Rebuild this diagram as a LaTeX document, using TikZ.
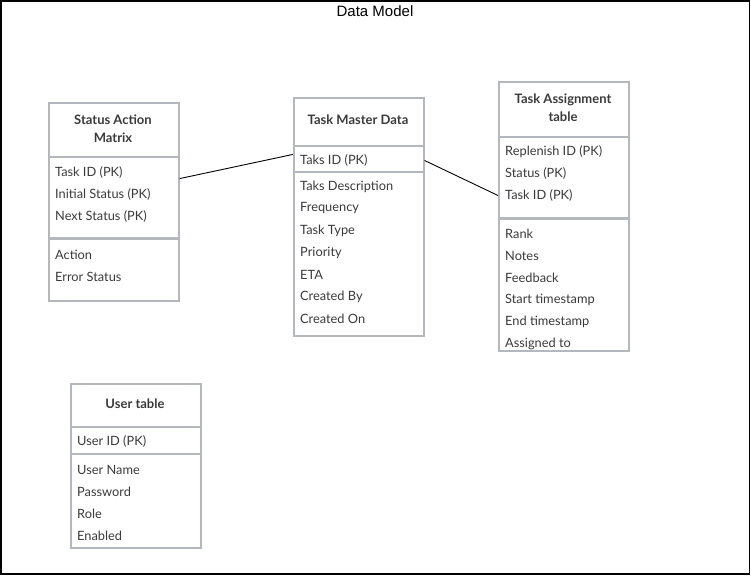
\documentclass[tikz,border=0pt]{standalone}
\usepackage{fontspec}
\setmainfont{Lato}
\newfontfamily\helv{Liberation Sans}
\definecolor{boxgray}{HTML}{B4B8BC}
\definecolor{txt}{HTML}{3A3A3A}
\begin{document}
\begin{tikzpicture}[x=1pt,y=-1pt,
  sect/.style={draw=boxgray, line width=1.6pt, anchor=north west, minimum width=130pt, inner sep=0pt},
  fld/.style={anchor=west, inner sep=0pt, text=txt, yshift=-1.5pt, font=\fontsize{12.8}{15}\selectfont},
  ttl/.style={inner sep=0pt, text=txt, align=center, font=\bfseries\fontsize{13}{18}\selectfont},
  conn/.style={draw=black, line width=0.9pt}]
\useasboundingbox (0,0) rectangle (751,578);
\draw[line width=1.3pt] (1,1) rectangle (749.5,574);
\node[font=\helv\fontsize{15}{18}\selectfont, inner sep=0pt] (title) at (375,11) {Data Model};

% Status Action Matrix
\node[sect, minimum height=53.5pt] (samT) at (48,102) {};
\node[sect, minimum height=81pt] (samP) at (48,156) {};
\node[sect, minimum height=62pt] (samR) at (48,238) {};
\node[ttl] (samTt) at (113,129) {Status Action\\Matrix};
\node[fld] (sam1) at (55,171) {Task ID (PK)};
\node[fld] (sam2) at (55,193) {Initial Status (PK)};
\node[fld] (sam3) at (55,215) {Next Status (PK)};
\node[fld] (sam4) at (55,253) {Action};
\node[fld] (sam5) at (55,275) {Error Status};

% Task Master Data
\node[sect, minimum height=47.5pt] (tmdT) at (293,97) {};
\node[sect, minimum height=25.5pt] (tmdP) at (293,145) {};
\node[sect, minimum height=163.5pt] (tmdR) at (293,171.5) {};
\node[ttl] (tmdTt) at (358,120) {Task Master Data};
\node[fld] (tmd1) at (300,159) {Taks ID (PK)};
\node[fld] (tmd2) at (300,185) {Taks Description};
\node[fld] (tmd3) at (300,207) {Frequency};
\node[fld] (tmd4) at (300,229) {Task Type};
\node[fld] (tmd5) at (300,251) {Priority};
\node[fld] (tmd6) at (300,273) {ETA};
\node[fld] (tmd7) at (300,295) {Created By};
\node[fld] (tmd8) at (300,317) {Created On};

% Task Assignment table
\node[sect, minimum height=54.5pt] (tatT) at (498,81) {};
\node[sect, minimum height=81pt] (tatP) at (498,136) {};
\node[sect, minimum height=132pt] (tatR) at (498,218) {};
\node[ttl] (tatTt) at (563,108) {Task Assignment\\table};
\node[fld] (tat1) at (505,150) {Replenish ID (PK)};
\node[fld] (tat2) at (505,172) {Status (PK)};
\node[fld] (tat3) at (505,194) {Task ID (PK)};
\node[fld] (tat4) at (505,232) {Rank};
\node[fld] (tat5) at (505,254) {Notes};
\node[fld] (tat6) at (505,276) {Feedback};
\node[fld] (tat7) at (505,298) {Start timestamp};
\node[fld] (tat8) at (505,320) {End timestamp};
\node[fld] (tat9) at (505,342) {Assigned to};

% User table
\node[sect, minimum height=43pt] (utT) at (70,383) {};
\node[sect, minimum height=26pt] (utP) at (70,426.5) {};
\node[sect, minimum height=93.5pt] (utR) at (70,453.5) {};
\node[ttl] (utTt) at (135,404) {User table};
\node[fld] (ut1) at (77,440) {User ID (PK)};
\node[fld] (ut2) at (77,468) {User Name};
\node[fld] (ut3) at (77,490) {Password};
\node[fld] (ut4) at (77,512) {Role};
\node[fld] (ut5) at (77,534) {Enabled};

% connectors
\draw[conn] (samP.east |- sam1.south) -- (tmdP.west |- tmd1.north);
\draw[conn] (tmdP.east |- tmd1.center) -- (tatP.west |- tat3.center);
\end{tikzpicture}
\end{document}
